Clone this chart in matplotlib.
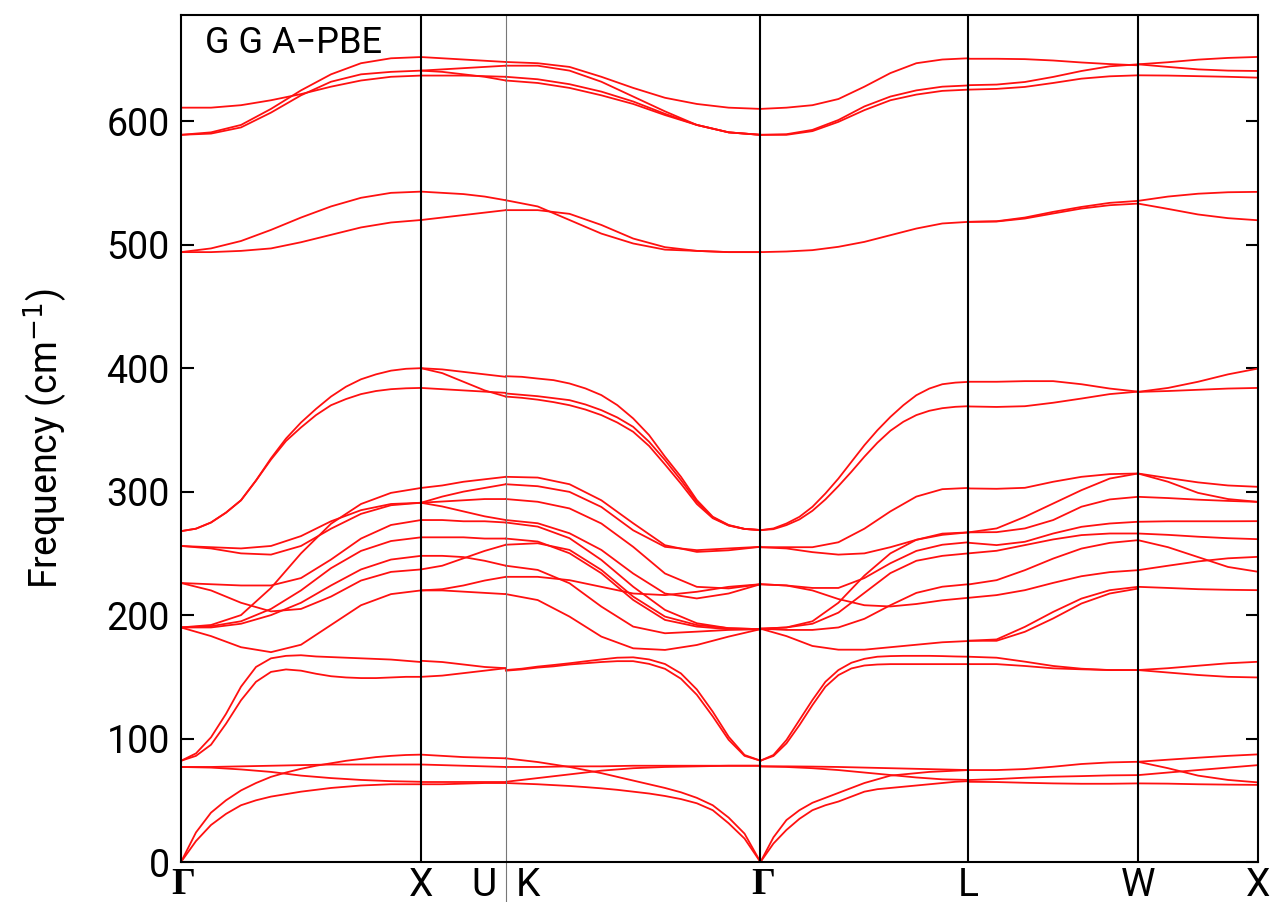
import numpy as np
import matplotlib
matplotlib.use('Agg')
import matplotlib.pyplot as plt
import matplotlib.transforms as mtrans

plt.rcParams['font.family'] = ['Roboto', 'DejaVu Sans']

# path lengths (2pi/a units): G-X, X-U, K-G, G-L, L-W, W-X
seg_len = [1.0, 0.3536, 1.0607, 0.8660, 0.7071, 0.5]
labels = ['Γ', 'X', 'U|K', 'Γ', 'L', 'W', 'X']

# ---- band values (cm^-1), per segment ----
# each band is sampled evenly along its segment
seg_GX = [
    [611, 611, 613, 617, 622, 628, 633, 636, 637],
    [589, 591, 597, 610, 625, 638, 647, 651, 652],
    [589, 590, 595, 607, 621, 632, 638, 640, 641],
    [494, 497, 503, 512, 522, 531, 538, 542, 543],
    [494, 494, 495, 497, 502, 508, 514, 518, 520],
    [268, 270, 275, 283, 293, 309, 327, 343, 356, 367, 377, 385, 391, 395, 398, 399.5, 400],
    [268, 270, 275, 283, 293, 309, 326, 341, 352, 362, 370, 375, 379, 381.5, 383, 383.7, 384],
    [256, 255, 254, 256, 264, 276, 285, 290, 291],
    [256, 254, 250, 249, 256, 270, 282, 289, 291],
    [190, 192, 200, 222, 250, 274, 290, 299, 303],
    [226, 225, 224, 224, 230, 245, 262, 273, 277],
    [226, 220, 210, 203, 205, 215, 228, 235, 237],
    [190, 191, 195, 205, 220, 238, 252, 260, 263],
    [190, 190, 193, 200, 210, 224, 237, 245, 248],
    [190, 183, 174, 170, 176, 192, 208, 217, 220],
    [82, 88, 101, 120, 142, 158, 165, 167, 167.5, 166.5, 166, 165.5, 165, 164.5, 164, 163, 162],
    [82, 86, 95, 112, 131, 146, 154, 156, 155, 152.5, 150.5, 149.5, 149, 149, 149.5, 150, 150],
    [77, 77, 77.5, 78, 78.5, 79, 79, 79, 79],
    [77, 76.5, 75, 73, 70, 68, 66.5, 65.5, 65],
    [0, 24, 40, 50, 58, 64, 69, 72.5, 75.5, 78, 80, 82, 83.5, 85, 86, 86.7, 87],
    [0, 17, 30, 39, 46, 50, 53, 55, 57, 58.5, 60, 61, 62, 62.5, 63, 63, 63],
]

seg_XU = [
    [652, 651, 650, 649, 648],
    [641, 642, 643, 644, 645],
    [641, 640, 638, 636, 633],
    [637, 637, 637, 636.5, 636],
    [543, 542, 541, 539, 536],
    [520, 522, 524, 526, 528],
    [400, 399, 397, 395, 393],
    [400, 396, 389, 382, 377],
    [384, 383, 382, 381, 380],
    [303, 305, 308, 310, 312],
    [291, 296, 300, 303, 306],
    [291, 292, 293, 294, 294],
    [291, 288, 284, 280, 277],
    [277, 277, 276, 276, 275],
    [263, 263, 263, 262, 262],
    [248, 248, 247, 244, 240],
    [237, 240, 246, 252, 257],
    [220, 221, 224, 228, 231],
    [220, 220, 219, 218, 217],
    [163, 162, 160, 158, 157],
    [150, 151, 153, 155, 157],
    [87, 86, 85, 84.5, 84],
    [79, 78.5, 78, 77.5, 77],
    [65, 65, 65, 65, 65],
    [63, 63, 63.5, 64, 64],
]

seg_KG = [
    [648, 647, 644, 636, 627, 619, 614, 611, 610],
    [645, 645, 641, 632, 620, 608, 597, 591, 589],
    [636, 634, 630, 624, 616, 606, 597, 591, 589],
    [633, 631, 627, 621, 614, 605, 597, 591, 589],
    [536, 531, 520, 509, 501, 496, 495, 494, 494],
    [528, 528, 525, 516, 505, 498, 495, 494, 494],
    [393.5, 393, 391.6, 390.3, 387.6, 383.6, 378.2, 370.1, 359.3, 345.8, 328.3, 312.1, 293.2, 279.7, 273, 269.8, 268.9],
    [379.5, 378.4, 377.3, 375.7, 374.1, 370.6, 366, 360.1, 352.5, 340.4, 325.6, 309.4, 291.8, 279.1, 272.7, 269.8, 268.9],
    [377, 376, 374.5, 372.5, 370, 366.5, 362, 356, 348.5, 337, 322, 306.5, 290, 278.5, 272.5, 269.8, 268.9],
    [312, 311.4, 306, 293, 274.4, 256.6, 251.2, 252.5, 255.3],
    [306, 304.4, 299.8, 287.6, 268.7, 255.3, 252.6, 254, 255.3],
    [294, 291.8, 286.4, 274.2, 255.3, 233.7, 222.9, 221.6, 225],
    [277, 274.4, 266.3, 252.8, 233.7, 217.5, 213.5, 217.5, 225],
    [275, 271.7, 262.3, 244.7, 223, 204.2, 193.4, 189.4, 188.6],
    [262, 259.6, 250.1, 233.9, 212.3, 196.1, 190.7, 188.6, 188.6],
    [257, 258.2, 252.8, 236.6, 215, 198.8, 192, 189.4, 188.6],
    [240, 236.6, 225.8, 206.9, 190.7, 185.3, 186.6, 188, 188.6],
    [231, 231, 228.3, 222.9, 217.5, 216.2, 218.9, 222.9, 225],
    [217, 212.2, 198.8, 182.6, 173.1, 171.8, 175.8, 182.6, 188.6],
    [155.5, 156.6, 158.3, 159.6, 161, 162.6, 164.1, 165.5, 165.8, 164.1, 160.4, 152.8, 139.8, 121.8, 101.5, 86.7, 82.1],
    [155, 156, 157.5, 158.5, 160, 161, 162, 162.7, 162.7, 160.5, 156.5, 148.5, 135.5, 118, 99, 86, 82.1],
    [84, 82.5, 81, 79, 77, 74.5, 72, 69, 66, 63, 60, 56.5, 52, 46, 36, 23, 0],
    [77, 77, 77.5, 77.5, 78, 78, 78, 78, 78],
    [65, 68, 71, 74, 76, 77, 77.5, 78, 78],
    [64, 63.5, 63, 62.3, 61.6, 60.7, 59.7, 58.5, 57, 55.5, 53.5, 51, 47.6, 42, 31.4, 19, 0],
]

seg_GL = [
    [610, 611, 613, 618, 628, 639, 647, 650, 651],
    [589, 589.5, 593, 601, 612, 620, 625, 628, 629],
    [589, 589, 592, 599.5, 609, 617, 621.6, 624.6, 625.6],
    [494, 494.5, 495.6, 498.3, 502.3, 507.7, 513.1, 517.2, 518.5],
    [268.8, 270.2, 274.2, 279.6, 287.7, 298.5, 310.6, 324.1, 337.6, 349.7, 360.5, 370, 378.1, 383.5, 387, 388.3, 388.9],
    [268.8, 269.6, 272.9, 277.5, 284.5, 293.7, 304.5, 316.1, 328.3, 339.6, 349.3, 356.6, 362, 365.5, 367.6, 368.7, 369.2],
    [255, 255, 255, 259, 270, 284, 296, 302, 303],
    [255, 254, 251, 249, 250, 255, 261, 265, 267],
    [225, 224, 220, 213, 208, 207, 209, 212, 214],
    [225, 224, 222, 222, 230, 242, 252, 257, 259],
    [189, 190, 195, 210, 232, 250, 261, 266, 267],
    [189, 190, 193, 202, 218, 234, 244, 248, 250],
    [189, 188, 188, 190, 197, 208, 218, 223, 225],
    [189, 183, 175, 172, 172, 174, 176, 178, 179],
    [82.1, 86.7, 98.8, 115, 131.2, 146, 155.5, 161.4, 164.6, 166.3, 166.8, 167, 167, 167, 166.8, 166.5, 166.3],
    [82.1, 85.9, 96.1, 110.9, 127.1, 142, 151.4, 156.8, 159.2, 160, 160.3, 160.3, 160.3, 160.3, 160.3, 160.3, 160.3],
    [77.5, 77.5, 77.3, 77, 76.5, 76, 75.5, 75, 74.5],
    [77.5, 77, 76, 74.5, 72.5, 70.5, 68.5, 67, 66.5],
    [0, 20, 34, 42, 48, 52, 56, 60, 64, 67, 70, 71, 72, 73, 73.5, 74, 74.5],
    [0, 15, 26, 35, 42, 46, 49, 53, 57, 59, 60, 61, 62, 63, 64, 65, 65.5],
]

seg_LW = [
    [650.6, 650.6, 650.3, 649.2, 647.6, 646.3, 645.3],
    [629.2, 629.7, 631.8, 635.9, 640.7, 644.5, 646.1],
    [625.6, 626.2, 627.8, 631, 634.5, 636.4, 637.2],
    [518.5, 519, 522, 526.6, 530.6, 533.9, 535.5],
    [518.5, 518.8, 521.2, 525.3, 529.3, 532, 533.3],
    [389, 389, 389.5, 389.5, 387, 383.5, 381],
    [369, 368.6, 369.2, 372, 375.4, 379, 381],
    [302.6, 302.3, 303.1, 308, 312, 314.2, 314.7],
    [267, 270.2, 279.6, 290.4, 301.2, 310.6, 314.7],
    [267, 267.2, 270.2, 277, 287.8, 293.7, 295.8],
    [258.6, 256.7, 259.4, 266.1, 271.5, 274.2, 275.6],
    [250, 252.1, 256.7, 261.3, 264.8, 266.1, 266.1],
    [224.8, 228.3, 236.4, 245.8, 253.9, 258.5, 260.7],
    [214, 216.2, 220.2, 226.1, 231.5, 234.8, 236.4],
    [179.2, 180.3, 190.5, 202.6, 213.4, 220.2, 222.9],
    [179.2, 179.2, 186.5, 197.3, 209.4, 217.5, 221.5],
    [166.3, 165.5, 162.3, 158.8, 156.6, 155.5, 155.5],
    [160.3, 160.3, 158.8, 156.9, 156.1, 155.5, 155.5],
    [74.5, 74.5, 75.3, 77.2, 79.4, 80.7, 81.2],
    [66.4, 67.2, 68.3, 69.1, 69.6, 70.2, 70.4],
    [65, 64.8, 64.2, 63.7, 63.4, 63.4, 63.7],
]

seg_WX = [
    [646.1, 647.8, 649.9, 651.3, 652.1],
    [646.1, 644, 642, 641, 640.7],
    [637.2, 637, 636.5, 636, 635.3],
    [535.5, 539, 541.3, 542.5, 542.8],
    [533.3, 529, 524.5, 521.5, 519.8],
    [380.8, 384, 389, 395, 399.7],
    [380.8, 381.5, 382.5, 383.5, 384],
    [314.7, 311, 307.5, 305, 303.9],
    [314.7, 308, 299, 294, 291.7],
    [295.8, 294.8, 293.5, 292.5, 291.7],
    [275.6, 276, 276, 276, 276.1],
    [266.1, 265, 263.5, 262.3, 261.5],
    [260.7, 255, 247, 239, 235.1],
    [236.4, 240, 243.5, 246, 247.2],
    [222.9, 222, 221, 220.5, 220.2],
    [155.5, 157, 159, 161, 162.2],
    [155.5, 153.5, 151.5, 150, 149.5],
    [81.2, 82.9, 84.5, 86, 87.2],
    [70.4, 72.5, 74.5, 76.5, 78.5],
    [81.2, 76, 70, 66.5, 64.5],
    [63.7, 63.5, 63, 62.7, 62.5],
]

segments = [seg_GX, seg_XU, seg_KG, seg_GL, seg_LW, seg_WX]

# high-symmetry positions
kpos = np.concatenate([[0], np.cumsum(seg_len)])

fig = plt.figure(figsize=(12.71, 9.02), dpi=100)
ax = fig.add_axes([0.1424, 0.0443, 0.8474, 0.9390])

for i, seg in enumerate(segments):
    for band in seg:
        x = np.linspace(kpos[i], kpos[i + 1], len(band))
        ax.plot(x, band, color='#ff1010', lw=1.3, solid_joinstyle='round')

# vertical lines at high-symmetry points
for i, k in enumerate(kpos[1:-1]):
    if labels[i + 1] == 'U|K':
        ax.axvline(k, ymin=-0.047, color='#777777', lw=0.8, clip_on=False)
    else:
        ax.axvline(k, color='black', lw=1.5)

ax.set_xlim(kpos[0], kpos[-1])
ax.set_ylim(0, 686)

ax.set_yticks([0, 100, 200, 300, 400, 500, 600])
ax.tick_params(axis='y', which='both', direction='in', length=9, width=1.5,
               labelsize=27, right=True, pad=8)
ax.set_xticks([])
for s in ax.spines.values():
    s.set_linewidth(1.5)

# x labels
trans = mtrans.blended_transform_factory(ax.transData, ax.transAxes)
ly = -0.006
for k, lab in zip(kpos, labels):
    if lab == 'Γ':
        ax.text(k + 0.01, ly, 'Γ', transform=trans, ha='center', va='top',
                fontsize=27, family=['Liberation Serif', 'DejaVu Serif'], fontweight='bold')
    elif lab == 'U|K':
        ax.text(k - 0.04, ly, 'U', transform=trans, ha='right', va='top', fontsize=28)
        ax.text(k + 0.04, ly, 'K', transform=trans, ha='left', va='top', fontsize=28)
    else:
        ax.text(k, ly, lab, transform=trans, ha='center', va='top', fontsize=28)

ax.set_ylabel('Frequency (cm$^{-1}$)', fontsize=27, labelpad=26)
ax.text(0.022, 0.988, 'G G A−PBE', transform=ax.transAxes, ha='left', va='top', fontsize=26)

fig.savefig('out.png', dpi=100)
